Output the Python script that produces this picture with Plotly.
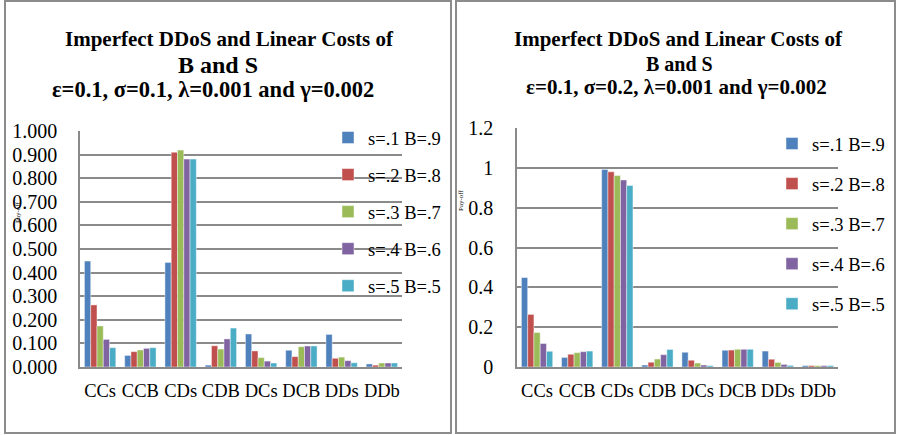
import plotly.graph_objects as go

# Strategy profiles on the x axis
categories = ["CCs", "CCB", "CDs", "CDB", "DCs", "DCB", "DDs", "DDb"]

# Series names (seller / buyer weights)
series_names = ["s=.1 B=.9", "s=.2 B=.8", "s=.3 B=.7", "s=.4 B=.6", "s=.5 B=.5"]
colors = ["#4F81BD", "#C0504D", "#9BBB59", "#8064A2", "#4BACC6"]

# Pay-offs, sigma = 0.1
left_s1 = [0.449, 0.049, 0.443, 0.008, 0.140, 0.071, 0.138, 0.013]
left_s2 = [0.263, 0.065, 0.910, 0.090, 0.068, 0.044, 0.037, 0.008]
left_s3 = [0.174, 0.072, 0.919, 0.076, 0.040, 0.086, 0.042, 0.017]
left_s4 = [0.117, 0.079, 0.881, 0.119, 0.025, 0.089, 0.027, 0.017]
left_s5 = [0.082, 0.082, 0.881, 0.165, 0.017, 0.089, 0.018, 0.017]

# Pay-offs, sigma = 0.2
right_s1 = [0.449, 0.048, 0.992, 0.010, 0.074, 0.084, 0.080, 0.007]
right_s2 = [0.264, 0.064, 0.980, 0.024, 0.034, 0.085, 0.039, 0.007]
right_s3 = [0.173, 0.072, 0.961, 0.040, 0.020, 0.089, 0.023, 0.007]
right_s4 = [0.118, 0.077, 0.939, 0.062, 0.010, 0.089, 0.013, 0.007]
right_s5 = [0.079, 0.080, 0.911, 0.088, 0.007, 0.089, 0.008, 0.007]

left_series = [left_s1, left_s2, left_s3, left_s4, left_s5]
right_series = [right_s1, right_s2, right_s3, right_s4, right_s5]

W, H = 900, 435
FONT = "Liberation Serif"
GRID = "#8a8a8a"


def px(x):
    return x / W


def py(y):
    return 1 - y / H


fig = go.Figure()

for i, (name, vals) in enumerate(zip(series_names, left_series)):
    fig.add_trace(go.Bar(
        x=categories, y=vals, name=name, marker_color=colors[i],
        marker_line=dict(color="rgba(255,255,255,0.55)", width=0.8),
        xaxis="x", yaxis="y", legend="legend", legendgroup=f"l{i}",
    ))

for i, (name, vals) in enumerate(zip(series_names, right_series)):
    fig.add_trace(go.Bar(
        x=categories, y=vals, name=name, marker_color=colors[i],
        marker_line=dict(color="rgba(255,255,255,0.55)", width=0.8),
        xaxis="x2", yaxis="y2", legend="legend2", legendgroup=f"r{i}",
    ))

axis_common = dict(showline=True, linecolor=GRID, linewidth=1.5, automargin=False,
                   ticks="", fixedrange=True)
xfont = dict(family=FONT, size=18.5, color="#000")
yfont = dict(family=FONT, size=20, color="#000")

fig.update_layout(
    width=W, height=H,
    margin=dict(l=0, r=0, t=0, b=0),
    paper_bgcolor="white", plot_bgcolor="white",
    barmode="group", bargap=0.22, bargroupgap=0.0,
    font=dict(family=FONT, color="#000"),
    xaxis=dict(domain=[px(80), px(402)], anchor="y", ticklabelstandoff=6,
               tickfont=xfont, **axis_common),
    yaxis=dict(domain=[py(367), py(131)], anchor="x", range=[0, 1.0], dtick=0.1,
               tickformat=".3f", showgrid=True, gridcolor=GRID, gridwidth=1.5,
               zeroline=False, ticklabelstandoff=17, tickfont=yfont, **axis_common),
    xaxis2=dict(domain=[px(517), px(838)], anchor="y2", ticklabelstandoff=6,
                tickfont=xfont, **axis_common),
    yaxis2=dict(domain=[py(367), py(128)], anchor="x2", range=[0, 1.2], dtick=0.2,
                showgrid=True, gridcolor=GRID, gridwidth=1.5,
                zeroline=False, ticklabelstandoff=18, tickfont=yfont, **axis_common),
    legend=dict(x=px(328), y=py(119), xanchor="left", yanchor="top",
                bgcolor="rgba(0,0,0,0)", font=dict(family=FONT, size=18.5),
                tracegroupgap=10, traceorder="grouped", itemclick=False),
    legend2=dict(x=px(772), y=py(125), xanchor="left", yanchor="top",
                 bgcolor="rgba(0,0,0,0)", font=dict(family=FONT, size=18.5),
                 tracegroupgap=13, traceorder="grouped", itemclick=False),
)

# Panel frames
frame = dict(type="rect", xref="paper", yref="paper",
             line=dict(color="#8c8c8c", width=2), fillcolor="rgba(0,0,0,0)", layer="below")
fig.add_shape(x0=px(5), x1=px(451), y0=py(433), y1=py(1), **frame)
fig.add_shape(x0=px(456), x1=px(895), y0=py(433), y1=py(1), **frame)


# Titles
def title_line(text, xc, yc, size):
    fig.add_annotation(text=f"<b>{text}</b>", x=px(xc), y=py(yc), xref="paper", yref="paper",
                       xanchor="center", yanchor="middle", showarrow=False,
                       font=dict(family=FONT, size=size, color="#000"))


title_line("Imperfect DDoS and Linear Costs of", 230, 39, 21)
title_line("B and S", 218, 65, 24)
title_line("ε=0.1, σ=0.1, λ=0.001 and γ=0.002", 213, 90, 22.5)

title_line("Imperfect DDoS and Linear Costs of", 678, 39, 21)
title_line("B and S", 679, 64, 20)
title_line("ε=0.1, σ=0.2, λ=0.001 and γ=0.002", 676, 87, 21)

# Axis titles
for xc, yc in [(12, 212), (461, 200)]:
    fig.add_annotation(text="Pay-off", x=px(xc), y=py(yc), xref="paper", yref="paper",
                       textangle=-90, showarrow=False,
                       font=dict(family=FONT, size=7, color="#000"))

fig.write_html("out.html")
